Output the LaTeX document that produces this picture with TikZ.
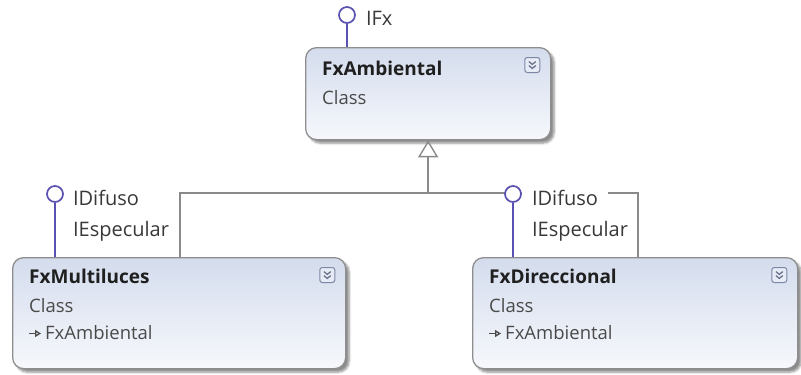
\documentclass[tikz,border=0pt]{standalone}
\usepackage{fontspec}
\setmainfont{Open Sans}
\usetikzlibrary{arrows.meta, positioning, shadows.blur}

\definecolor{boxline}{HTML}{8E8E8E}
\definecolor{boxtop}{HTML}{D4DCED}
\definecolor{boxbot}{HTML}{F6F8FC}
\definecolor{lolly}{HTML}{5A52B0}
\definecolor{wire}{HTML}{8A8A8A}
\definecolor{expline}{HTML}{7D87A6}
\definecolor{expfill}{HTML}{E6EBF5}
\definecolor{subtext}{HTML}{4A4A4A}

\begin{document}
\begin{tikzpicture}[
    x=1pt, y=-1pt,
    classbox/.style={draw=boxline, line width=1.3pt, rounded corners=11pt,
        top color=boxtop, bottom color=boxbot, anchor=north west,
        blur shadow={shadow xshift=3.5pt, shadow yshift=-3.5pt,
            shadow blur steps=6, shadow opacity=45}},
    title/.style={font=\fontsize{19}{22}\selectfont\bfseries, text=black!88,
        anchor=base west, inner sep=0pt},
    sub/.style={font=\fontsize{18.5}{21}\selectfont, text=subtext,
        anchor=base west, inner sep=0pt},
    iface/.style={font=\fontsize{20}{23}\selectfont, text=black!78,
        anchor=west, inner sep=0pt},
    ball/.style={circle, draw=lolly, line width=1.7pt, fill=white,
        minimum size=16pt, inner sep=0pt},
    stem/.style={draw=lolly, line width=1.9pt},
    generalize/.style={draw=wire, line width=1.4pt},
    expander/.style={draw=expline, fill=expfill, line width=1pt,
        rounded corners=2.5pt, minimum size=15pt, inner sep=0pt},
    chevron/.style={draw=expline!80!black, line width=1.2pt}]

    \useasboundingbox (0,0) rectangle (801,375);

    % classes
    \node[classbox, minimum width=245pt, minimum height=92pt] (ambiental) at (305,47) {};
    \node[classbox, minimum width=333pt, minimum height=111pt] (multiluces) at (12,257) {};
    \node[classbox, minimum width=325pt, minimum height=111pt] (direccional) at (472,257) {};

    \node[title, xshift=17pt, yshift=-28pt] (ambTitle) at (ambiental.north west) {FxAmbiental};
    \node[sub, yshift=-29pt] (ambKind) at (ambTitle.base west) {Class};

    \node[title, xshift=17pt, yshift=-26pt] (mulTitle) at (multiluces.north west) {FxMultiluces};
    \node[sub, yshift=-29pt] (mulKind) at (mulTitle.base west) {Class};
    \node[sub, xshift=16pt, yshift=-27pt] (mulParent) at (mulKind.base west) {FxAmbiental};

    \node[title, xshift=17pt, yshift=-26pt] (dirTitle) at (direccional.north west) {FxDireccional};
    \node[sub, yshift=-29pt] (dirKind) at (dirTitle.base west) {Class};
    \node[sub, xshift=16pt, yshift=-27pt] (dirParent) at (dirKind.base west) {FxAmbiental};

    % base class arrows in front of the parent name
    \foreach \p in {mulParent, dirParent}
        \draw[subtext, line width=1.3pt, -{Triangle[open, length=6pt, width=7pt]}]
            ([xshift=-16pt, yshift=5.5pt]\p.base west) -- ([xshift=-4pt, yshift=5.5pt]\p.base west);

    % collapse buttons
    \foreach \b in {ambiental, multiluces, direccional} {
        \node[expander] (\b-exp) at ([xshift=-19pt, yshift=-18pt]\b.north east) {};
        \draw[chevron] (\b-exp.center) ++(-3.4,-3.4) -- ++(3.4,2.8) -- ++(3.4,-2.8);
        \draw[chevron] (\b-exp.center) ++(-3.4,0.6) -- ++(3.4,2.8) -- ++(3.4,-2.8);
    }

    % inheritance
    \coordinate (busL) at (180,193);
    \coordinate (busR) at (638,193);
    \draw[generalize] (multiluces.north -| busL) -- (busL) -- (busR) -- (direccional.north -| busR);
    \draw[generalize, -{Triangle[open, length=17pt, width=20pt, line width=1.4pt]}]
        (ambiental.south |- busL) -- (ambiental.south);

    % interfaces
    \node[ball] (ifxBall) at (347,15) {};
    \draw[stem] (ifxBall) -- (ifxBall |- ambiental.north);
    \node[iface, right=10pt of ifxBall, yshift=-3pt] (ifxLabel) {IFx};

    \node[ball] (mulBall) at (55,194) {};
    \draw[stem] (mulBall) -- (mulBall |- multiluces.north);
    \node[iface, right=9pt of mulBall, yshift=-4pt] (mulDifuso) {IDifuso};
    \node[iface, yshift=-33pt] (mulEspecular) at (mulDifuso.west) {IEspecular};

    \node[ball] (dirBall) at (513,194) {};
    \draw[stem] (dirBall) -- (dirBall |- direccional.north);
    \node[iface, fill=white, inner xsep=10pt, inner ysep=1pt, anchor=west, yshift=-4pt] (dirDifuso) at (dirBall.east) {IDifuso};
    \node[iface, yshift=-33pt, xshift=10pt] (dirEspecular) at (dirDifuso.west) {IEspecular};

\end{tikzpicture}
\end{document}
